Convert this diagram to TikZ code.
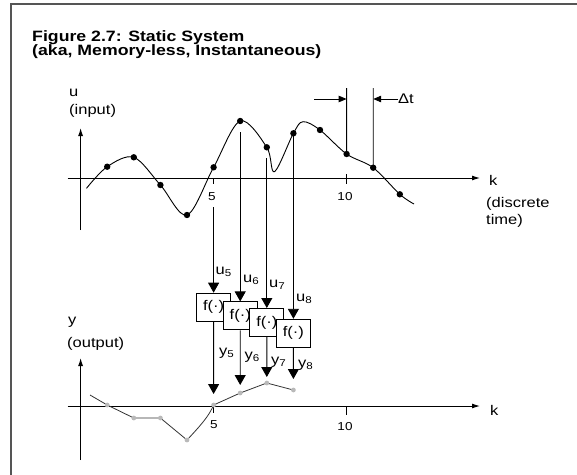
\documentclass[tikz,border=0pt]{standalone}
\usepackage{fontspec}
\setmainfont{Liberation Sans}[FakeStretch=1.18]
\usetikzlibrary{arrows.meta,positioning}
\definecolor{framecol}{RGB}{85,85,85}
\definecolor{outcol}{RGB}{185,185,185}
\newcommand{\lbl}{\fontsize{14}{16}\selectfont}
\newcommand{\ticklbl}{\fontsize{11.5}{13}\selectfont}
\newcommand{\ttl}{\fontsize{15}{17}\selectfont\bfseries}
\tikzset{
  axis/.style={-{Latex[length=8pt,width=5pt]}, line width=1pt},
  flow/.style={-{Triangle[length=10pt,width=11pt]}, line width=0.9pt},
  gap/.style={-{Triangle[length=8pt,width=6.5pt]}, line width=0.9pt},
  fbox/.style={draw, fill=white, line width=1pt, minimum width=34pt, minimum height=28pt, inner sep=0pt, font=\lbl},
  lab/.style={font=\lbl, inner sep=0pt, anchor=west},
  klab/.style={font=\ticklbl, inner sep=0pt, anchor=base},
  heading/.style={font=\ttl, inner sep=0pt, anchor=base west},
}

\begin{document}
\begin{tikzpicture}[x=1pt, y=-1pt]
  \useasboundingbox (0,0) rectangle (577,474);
  \draw[framecol, line width=1.6pt] (11,480) -- (11,4) -- (585,4);
  \node[heading] (title) at (32,41.5) {Figure 2.7: Static System};
  \node[heading] (subtitle) at (32,55) {(aka, Memory-less, Instantaneous)};
  % input u(k)
  \draw[axis] (80.6,230) -- (80.6,128);
  \draw[axis] (67.5,178) -- (480,178);
  \draw[line width=0.8pt] (213.6,178) -- (213.6,184) (346.6,174) -- (346.6,184);
  \node[klab] (u5tick) at (212,200) {5};
  \node[klab] (u10tick) at (345,200) {10};
  \node[lab] (ulab) at (69,93) {u};
  \node[lab] (inlab) at (69,111) {(input)};
  \node[lab] (klab1) at (489,180) {k};
  \node[lab] (disc) at (486,204) {(discrete};
  \node[lab] (time) at (486,221) {time)};
  \foreach \k/\v in {1/166.7, 2/157.3, 3/185, 4/215, 5/167.3, 6/121, 7/147.3, 8/133.3, 9/130, 10/154, 11/167.7, 12/194.3}
    \coordinate (s\k) at ({80.6+26.6*\k},\v);
  \draw[line width=0.9pt] plot[smooth, tension=0.55] coordinates {(86.5,188.3) (s1) (s2) (s3) (s4) (s5) (s6) (s7) (274.5,171.7) (s8) (303,121.7) (s9) (s10) (s11) (s12) (414,204)};
  \foreach \k in {1,...,12} \fill (s\k) circle (3.2);
  % sample spacing
  \coordinate (t1) at (346.6,88); \coordinate (t2) at (373.2,88);
  \draw[line width=0.8pt] (t1) -- (s10); \draw[line width=0.8pt] (t2) -- (s11);
  \coordinate (g1) at (314,99); \coordinate (g2) at (398,99);
  \draw[gap] (g1) -- (t1 |- g1);
  \draw[gap] (g2) -- (t2 |- g2);
  \node[lab] (dt) at (398,99) {Δt};
  % static map per sample
  \node[fbox] (f5) at (213.6,307.2) {f(·)};
  \node[fbox] (f6) at (240.2,315.9) {f(·)};
  \node[fbox] (f7) at (266.8,322.5) {f(·)};
  \node[fbox] (f8) at (293.4,333.3) {f(·)};
  \coordinate (a5) at (213.6,207); \coordinate (a6) at (240.2,132);
  \coordinate (a7) at (266.8,158); \coordinate (a8) at (293.4,136);
  \foreach \k in {5,...,8} \draw[flow] (a\k) -- (f\k);
  \node[lab] (u5) at (215.5,272) {u\textsubscript{5}};
  \node[lab] (u6) at (243,280) {u\textsubscript{6}};
  \node[lab] (u7) at (269,285) {u\textsubscript{7}};
  \node[lab] (u8) at (296,299) {u\textsubscript{8}};
  % output y(k)
  \draw[axis] (80.6,460) -- (80.6,358);
  \draw[axis] (67.5,406) -- (480,406);
  \draw[line width=0.8pt] (213.6,406) -- (213.6,413) (346.6,406) -- (346.6,415);
  \node[klab] (y5tick) at (214,428) {5};
  \node[klab] (y10tick) at (345,430) {10};
  \node[lab] (ylab) at (68,322) {y};
  \node[lab] (outlab) at (67,344) {(output)};
  \node[lab] (klab2) at (490,410) {k};
  \coordinate (p0) at (90,395);
  \foreach \k/\v in {1/405, 2/418, 3/418, 4/440, 5/405, 6/393, 7/383, 8/390}
    \coordinate (p\k) at ({80.6+26.6*\k},\v);
  \draw[black!80, line width=0.8pt] (p0) -- (p1) -- (p2) -- (p3) -- (p4) .. controls (201,425) and (209,416) .. (p5) -- (p6) -- (p7) -- (p8);
  \foreach \k in {1,...,8} \fill[outcol] (p\k) circle (2.4);
  \foreach \k/\s in {5/11, 6/8, 7/6, 8/11} \draw[flow, shorten >=\s pt] (f\k) -- (p\k);
  \node[lab] (y5) at (219,353) {y\textsubscript{5}};
  \node[lab] (y6) at (244.5,357) {y\textsubscript{6}};
  \node[lab] (y7) at (271,362) {y\textsubscript{7}};
  \node[lab] (y8) at (298,365) {y\textsubscript{8}};
\end{tikzpicture}
\end{document}
